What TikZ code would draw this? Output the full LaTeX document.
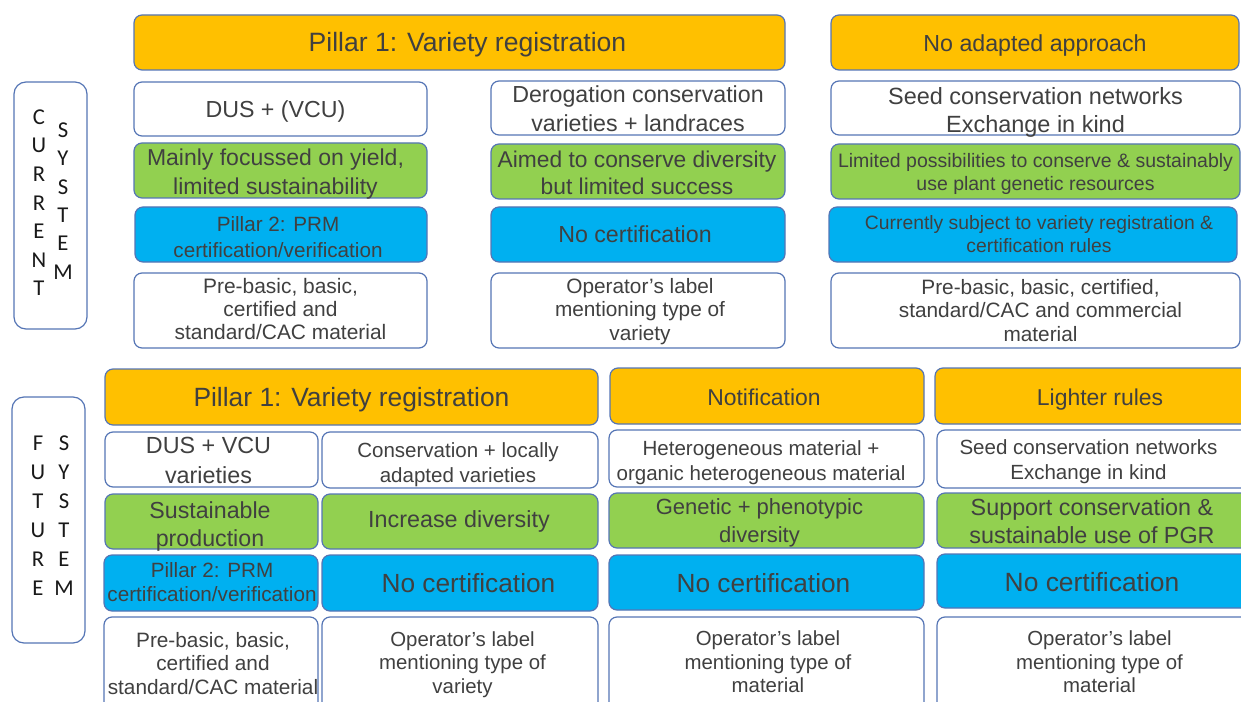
\documentclass[tikz,border=0pt]{standalone}
\usepackage{fontspec}
\setmainfont{Liberation Sans}
\newfontfamily\letterfont{Carlito}
\definecolor{bd}{HTML}{5575B5}
\definecolor{orng}{HTML}{FFC000}
\definecolor{grn}{HTML}{92D050}
\definecolor{blu}{HTML}{00B0F0}
\definecolor{txt}{HTML}{404040}
\newcommand\fsz[2]{\fontsize{#1}{#2}\selectfont}
% box: name, style, x1, y1, x2, y2 (pixels)
\newcommand\bx[6]{\node[#2, minimum width={(#5-#3)*0.75pt}, minimum height={(#6-#4)*0.75pt}] (#1) at ({(#3+#5)/2},{(#4+#6)/2}) {};}
% text in box: box name, font, dx, dy (pixels, down positive), text
\newcommand\tx[5]{\node[tt, font=#2] (#1t) at ([xshift={(#3)*0.75pt}, yshift={(0-(#4))*0.75pt}]#1.center) {#5};}
\tikzset{
  bxbase/.style={rounded corners=6pt, draw=bd, line width=0.9pt, inner sep=0pt},
  orbox/.style={bxbase, fill=orng},
  whbox/.style={bxbase, fill=white},
  grbox/.style={bxbase, fill=grn},
  blbox/.style={bxbase, fill=blu},
  tt/.style={align=center, text=txt, inner sep=0pt},
  sidebox/.style={draw=bd, line width=0.9pt, rounded corners=9pt, fill=white, inner sep=0pt},
  lt/.style={font=\letterfont\fsz{17}{17}, text=black!90, inner sep=0pt}
}
\begin{document}
\begin{tikzpicture}[x=0.75pt, y=-0.75pt]
\path[use as bounding box] (0,0) rectangle (1241,702);
\clip (0,0) rectangle (1241,702);
% ---------- current system ----------
\bx{cs}{sidebox}{14}{82}{87}{329}
\foreach \l [count=\i] in {C,U,R,R,E,N,T}
  \node[lt] (cl\i) at (39,{117+28.6*(\i-1)}) {\l};
\foreach \l [count=\i] in {S,Y,S,T,E,M}
  \node[lt] (cr\i) at (63,{130+28.4*(\i-1)}) {\l};
\bx{p1}{orbox}{134}{15}{785}{70}
\tx{p1}{\fsz{19.9}{24}}{8}{2}{Pillar 1: Variety registration}
\bx{na}{orbox}{831}{15}{1239}{70}
\tx{na}{\fsz{17.4}{21}}{0}{3}{No adapted approach}
\bx{dus}{whbox}{134}{82}{427}{136}
\tx{dus}{\fsz{17.4}{21}}{-5}{2}{DUS + (VCU)}
\bx{der}{whbox}{491}{81}{785}{135}
\tx{der}{\fsz{17.4}{21.75}}{0}{1}{Derogation conservation\\varieties + landraces}
\bx{seed}{whbox}{831}{81}{1240}{135}
\tx{seed}{\fsz{17.6}{21}}{0}{4.5}{Seed conservation networks\\Exchange in kind}
\bx{yield}{grbox}{134}{143}{427}{198}
\tx{yield}{\fsz{17.25}{21.75}}{-5}{3.5}{Mainly focussed on yield,\\limited sustainability}
\bx{aim}{grbox}{491}{144}{785}{199}
\tx{aim}{\fsz{17.1}{20.25}}{-1}{1}{Aimed to conserve diversity\\but limited success}
\bx{lim}{grbox}{831}{144}{1240}{199}
\tx{lim}{\fsz{14.6}{17.25}}{0}{2}{Limited possibilities to conserve \& sustainably\\use plant genetic resources}
\bx{prm}{blbox}{135}{207}{427}{262}
\tx{prm}{\fsz{15.5}{19.5}}{-3}{3}{Pillar 2: PRM\\certification/verification}
\bx{nc1}{blbox}{491}{207}{785}{262}
\tx{nc1}{\fsz{17.4}{21}}{-3}{0}{No certification}
\bx{cur}{blbox}{829}{207}{1237}{262}
\tx{cur}{\fsz{14.5}{17.25}}{6}{0}{Currently subject to variety registration \&\\certification rules}
\bx{pb}{whbox}{134}{273}{427}{348}
\tx{pb}{\fsz{15.7}{17.6}}{0}{-1.5}{Pre-basic, basic,\\certified and\\standard/CAC material}
\bx{op1}{whbox}{491}{273}{785}{348}
\tx{op1}{\fsz{15.6}{17.6}}{2}{1}{Operator’s label\\mentioning type of\\variety}
\bx{pb2}{whbox}{831}{273}{1240}{348}
\tx{pb2}{\fsz{15.6}{17.6}}{5}{0}{Pre-basic, basic, certified,\\standard/CAC and commercial\\material}
% ---------- future system ----------
\bx{fs}{sidebox}{12}{397}{85}{643}
\foreach \l [count=\i] in {F,U,T,U,R,E}
  \node[lt] (fl\i) at (38,{443+29*(\i-1)}) {\l};
\foreach \l [count=\i] in {S,Y,S,T,E,M}
  \node[lt] (fr\i) at (64,{443+29*(\i-1)}) {\l};
\bx{fp1}{orbox}{105}{369}{598}{425}
\tx{fp1}{\fsz{19.8}{24}}{0}{3}{Pillar 1: Variety registration}
\bx{notif}{orbox}{610}{368}{924}{424}
\tx{notif}{\fsz{17.2}{21}}{-3}{1.5}{Notification}
\bx{light}{orbox}{935}{368}{1256}{424}
\tx{light}{\fsz{17.2}{21}}{4.5}{4}{Lighter rules}
\bx{dus2}{whbox}{105}{432}{318}{487}
\tx{dus2}{\fsz{17.5}{22.5}}{-3}{1}{DUS + VCU\\varieties}
\bx{cons}{whbox}{322}{432}{598}{488}
\tx{cons}{\fsz{15.4}{18.75}}{-2}{5}{Conservation + locally\\adapted varieties}
\bx{het}{whbox}{609}{430}{924}{487}
\tx{het}{\fsz{15.4}{18.75}}{-5.5}{4}{Heterogeneous material +\\organic heterogeneous material}
\bx{seed2}{whbox}{937}{430}{1256}{488}
\tx{seed2}{\fsz{15.4}{18.75}}{-8}{3}{Seed conservation networks\\Exchange in kind}
\bx{sus}{grbox}{105}{494}{318}{549}
\tx{sus}{\fsz{17.4}{21}}{-1.5}{4.5}{Sustainable\\production}
\bx{inc}{grbox}{322}{494}{598}{549}
\tx{inc}{\fsz{17.5}{21}}{-1}{0}{Increase diversity}
\bx{gen}{grbox}{609}{493}{924}{548}
\tx{gen}{\fsz{16.5}{21}}{-7}{2.5}{Genetic + phenotypic\\diversity}
\bx{sup}{grbox}{937}{493}{1256}{548}
\tx{sup}{\fsz{17.5}{21}}{-4.5}{1}{Support conservation \&\\sustainable use of PGR}
\bx{prm2}{blbox}{104}{555}{318}{611}
\tx{prm2}{\fsz{15.5}{17.5}}{1}{-1}{Pillar 2: PRM\\certification/verification}
\bx{nc2}{blbox}{322}{555}{598}{611}
\tx{nc2}{\fsz{19.7}{24}}{8.5}{0}{No certification}
\bx{nc3}{blbox}{609}{555}{924}{610}
\tx{nc3}{\fsz{19.7}{24}}{-3}{1}{No certification}
\bx{nc4}{blbox}{937}{554}{1256}{608}
\tx{nc4}{\fsz{19.8}{24}}{-4.5}{1}{No certification}
\bx{pb3}{whbox}{104}{617}{318}{710}
\tx{pb3}{\fsz{15.6}{17.6}}{2}{0}{Pre-basic, basic,\\certified and\\standard/CAC material}
\bx{op2}{whbox}{322}{617}{598}{710}
\tx{op2}{\fsz{15.3}{17.6}}{2.5}{1}{Operator’s label\\mentioning type of\\variety}
\bx{op3}{whbox}{609}{617}{924}{710}
\tx{op3}{\fsz{15.3}{17.6}}{1.5}{-1.5}{Operator’s label\\mentioning type of\\material}
\bx{op4}{whbox}{937}{617}{1256}{710}
\tx{op4}{\fsz{15.3}{17.6}}{3}{-1.5}{Operator’s label\\mentioning type of\\material}
\end{tikzpicture}
\end{document}
